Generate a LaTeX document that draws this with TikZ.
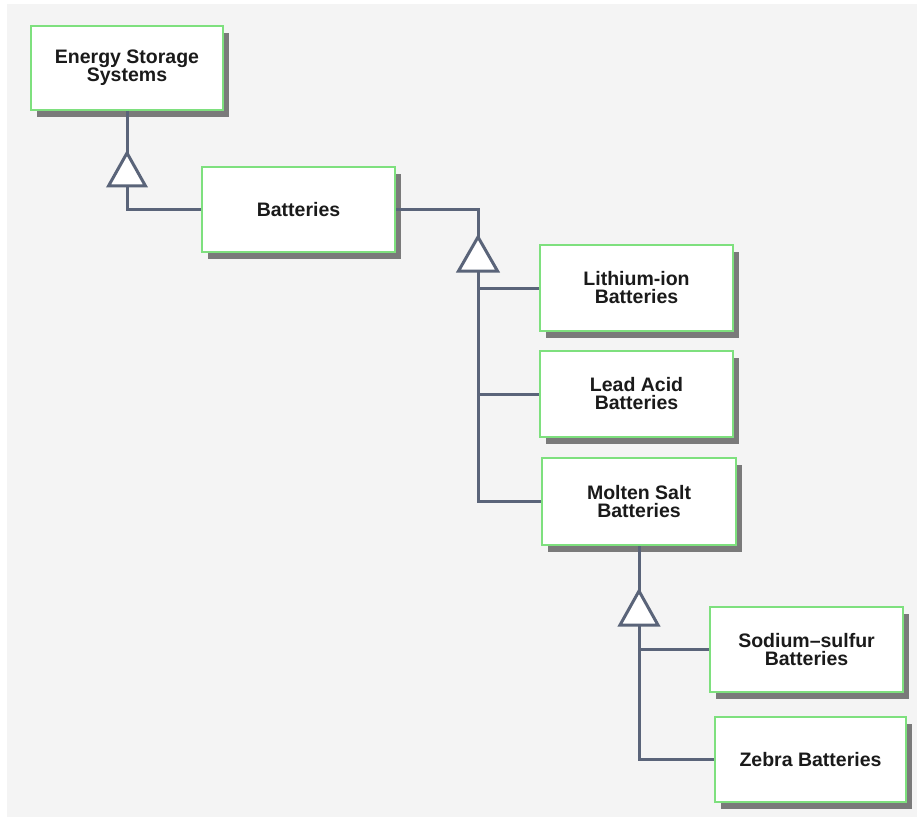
\documentclass[tikz,border=0pt]{standalone}
\usepackage{fontspec}
\setmainfont{Liberation Sans}
\usetikzlibrary{shadows}
\definecolor{bgc}{HTML}{F4F4F4}
\definecolor{boxg}{HTML}{7EE07E}
\definecolor{linec}{HTML}{5A6479}
\definecolor{shad}{HTML}{7A7A7A}
\definecolor{txt}{HTML}{1A1A1A}
\begin{document}
\begin{tikzpicture}[x=1pt,y=-1pt,
  box/.style={draw=boxg, line width=2pt, fill=white, inner sep=0pt,
    align=center, text=txt, font=\bfseries\fontsize{19.5}{18}\selectfont,
    minimum width=193pt, minimum height=85pt,
    drop shadow={shadow xshift=6pt, shadow yshift=-7pt, fill=shad, opacity=1}},
  conn/.style={draw=linec, line width=3pt},
  tri/.style={draw=linec, line width=3pt, fill=white, line join=miter}]
\useasboundingbox (0,0) rectangle (917,818);
\fill[white] (0,0) rectangle (917,818);
\fill[bgc] (7,4) rectangle (917,817);

\node[box, minimum width=192pt, minimum height=84pt] (ess) at (127,68) {Energy Storage\\Systems};
\node[box] (bat) at (298.5,209.5) {Batteries};
\node[box, minimum height=86pt] (li) at (636.5,288) {Lithium-ion\\Batteries};
\node[box, minimum height=86pt] (lead) at (636.5,394) {Lead Acid\\Batteries};
\node[box, minimum width=194pt, minimum height=87pt] (mol) at (639,501.5) {Molten Salt\\Batteries};
\node[box] (na) at (806.5,649.5) {Sodium–sulfur\\Batteries};
\node[box, minimum width=191pt] (zeb) at (810.5,759.5) {Zebra Batteries};

% inheritance triangles
\coordinate (t1) at ([yshift=-42pt]ess.south);
\coordinate (t1b) at ([yshift=-75pt]ess.south);
\coordinate (t2) at (478,237);
\coordinate (t2b) at (478,271);
\coordinate (t3) at ([yshift=-45pt]mol.south);
\coordinate (t3b) at ([yshift=-79pt]mol.south);

\draw[conn] (ess.south) -- (t1);
\draw[conn] (t1b) |- (bat.west);
\draw[tri] (t1) -- ++(-18.5,33) -- ++(37,0) -- cycle;

\draw[conn] (bat.east) -| (t2);
\draw[conn] (t2b) |- (li.west);
\draw[conn] (t2b) |- (lead.west);
\draw[conn] (t2b) |- (mol.west);
\draw[tri] (t2) -- ++(-19.5,34) -- ++(39,0) -- cycle;

\draw[conn] (mol.south) -- (t3);
\draw[conn] (t3b) |- (na.west);
\draw[conn] (t3b) |- (zeb.west);
\draw[tri] (t3) -- ++(-19,34) -- ++(38,0) -- cycle;
\end{tikzpicture}
\end{document}
